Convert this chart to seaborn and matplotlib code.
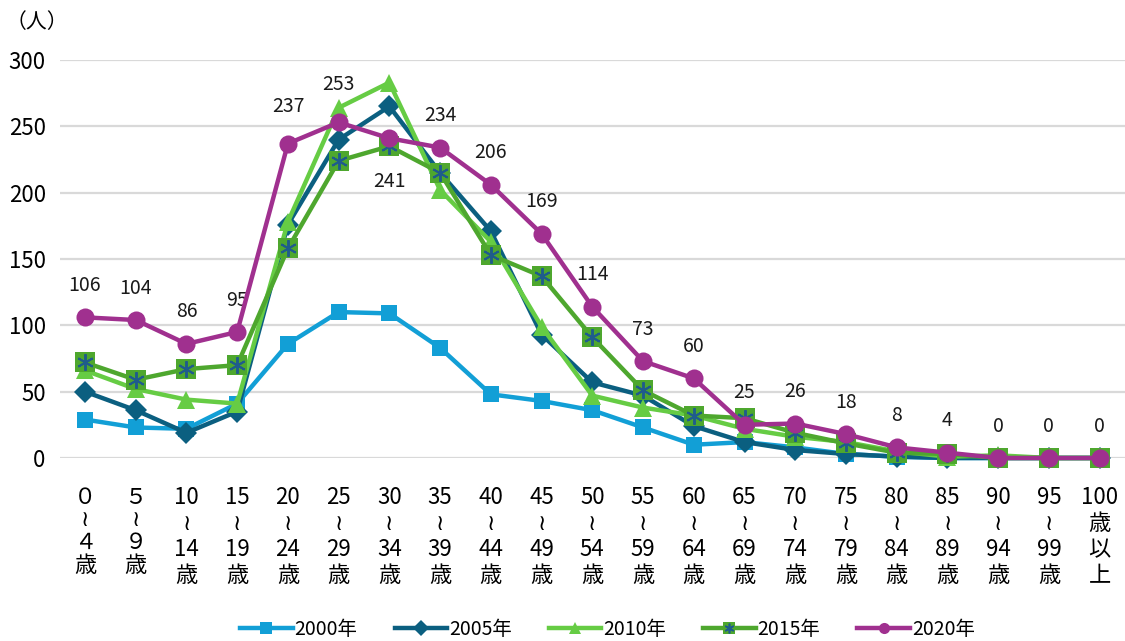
import numpy as np
import pandas as pd
import seaborn as sns
import matplotlib.pyplot as plt
from matplotlib.lines import Line2D

# age groups (x axis)
age_labels = ['０\n≀\n４\n歳', '５\n≀\n９\n歳', '10\n≀\n14\n歳', '15\n≀\n19\n歳', '20\n≀\n24\n歳',
              '25\n≀\n29\n歳', '30\n≀\n34\n歳', '35\n≀\n39\n歳', '40\n≀\n44\n歳', '45\n≀\n49\n歳',
              '50\n≀\n54\n歳', '55\n≀\n59\n歳', '60\n≀\n64\n歳', '65\n≀\n69\n歳', '70\n≀\n74\n歳',
              '75\n≀\n79\n歳', '80\n≀\n84\n歳', '85\n≀\n89\n歳', '90\n≀\n94\n歳', '95\n≀\n99\n歳',
              '100\n歳\n以\n上']

years = ['2000年', '2005年', '2010年', '2015年', '2020年']

# values
v2000 = [29, 23, 22, 41, 86, 110, 109, 83, 48, 43, 36, 23, 10, 12, 8, 3, 1, 0, 0, 0, 0]
v2005 = [50, 36, 19, 35, 176, 240, 265, 215, 171, 93, 57, 47, 24, 12, 6, 3, 1, 0, 0, 0, 0]
v2010 = [66, 52, 44, 41, 178, 264, 283, 202, 163, 99, 47, 38, 32, 22, 16, 12, 5, 1, 2, 0, 0]
v2015 = [72, 59, 67, 70, 158, 224, 235, 215, 153, 137, 91, 51, 32, 30, 19, 11, 4, 3, 0, 0, 0]
v2020 = [106, 104, 86, 95, 237, 253, 241, 234, 206, 169, 114, 73, 60, 25, 26, 18, 8, 4, 0, 0, 0]

colors = ['#129FD6', '#0B5F80', '#66CC44', '#4EA72E', '#A0308F']
markers = ['s', 'D', '^', 's', 'o']
msizes = [12, 11, 13, 14, 13]
star_color = '#1F5C8B'

plt.rcParams['font.family'] = ['Noto Sans CJK JP', 'DejaVu Sans']

# long format frame for seaborn
rows = []
for yr, vals in zip(years, [v2000, v2005, v2010, v2015, v2020]):
    for i, v in enumerate(vals):
        rows.append({'age': i, 'count': v, 'year': yr})
df = pd.DataFrame(rows)

fig = plt.figure(figsize=(11.25, 6.41), dpi=100)
ax = fig.add_axes([0.053, 0.2855, 0.947, 0.6209])

sns.lineplot(data=df, x='age', y='count', hue='year', style='year',
             palette=dict(zip(years, colors)), markers=dict(zip(years, markers)),
             dashes=False, linewidth=3.2, markeredgewidth=0, legend=False, ax=ax)

for i, line in enumerate(ax.lines[:5]):
    line.set_markersize(msizes[i])
    line.set_clip_on(False)
    line.set_zorder(3 + i)

# asterisk on the 2015 squares
ax.plot(range(len(v2015)), v2015, linestyle='none', marker=(6, 2, 0), markersize=12,
        color=star_color, markeredgewidth=1.4, clip_on=False, zorder=6.5)

# labels for 2020
for i, v in enumerate(v2020):
    if i == 6:
        off = -31
    elif i in (4, 5):
        off = 27
    else:
        off = 23
    ax.annotate(str(v), (i, v), xytext=(0, off), textcoords='offset points',
                ha='center', va='center', fontsize=14, color='#1a1a1a')

ax.set_xlim(-0.5, 20.5)
ax.set_ylim(0, 300)
ax.set_yticks([0, 50, 100, 150, 200, 250, 300])
ax.set_xticks(range(len(age_labels)))
ax.set_xticklabels(age_labels, fontsize=16, linespacing=1.18)
for lab in ax.get_xticklabels()[:2]:
    lab.set_linespacing(0.98)
ax.tick_params(axis='x', length=0, pad=20)
ax.tick_params(axis='y', length=0, pad=10, labelsize=16)
ax.set_xlabel('')
ax.set_ylabel('')
ax.grid(axis='y', color='#d9d9d9', linewidth=1.6)
ax.grid(axis='x', visible=False)
ax.set_axisbelow(True)
for s in ax.spines.values():
    s.set_visible(False)

fig.text(0.005, 0.965, '（人）', fontsize=15, va='center', ha='left')

# legend
handles = []
for i, yr in enumerate(years):
    h = Line2D([], [], color=colors[i], marker=markers[i], markersize=8, linewidth=3.2,
               markeredgewidth=0)
    if i == 3:
        star = Line2D([], [], color=star_color, marker=(6, 2, 0), markersize=7,
                      linestyle='none', markeredgewidth=1.2)
        h = (h, star)
    handles.append(h)
fig.legend(handles, years, loc='center', bbox_to_anchor=(0.54, 0.018), ncol=5,
           frameon=False, fontsize=14, handlelength=2.7, handletextpad=0.1,
           columnspacing=1.9)

fig.savefig('out.png', dpi=100)
